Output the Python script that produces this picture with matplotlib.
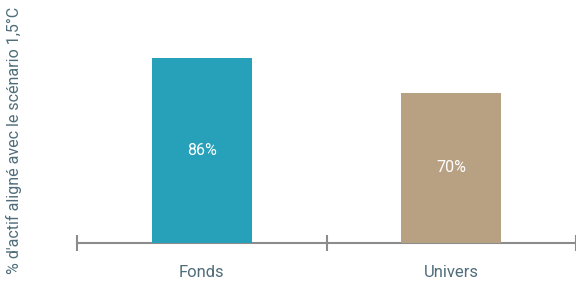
import matplotlib.pyplot as plt
from matplotlib import font_manager

# === DATA ===
categories = ["Fonds", "Univers"]
values = [86, 70]
value_labels = ["86%", "70%"]
bar_colors = ["#26a1b9", "#b8a083"]

# === STYLE ===
TEXT_COLOR = "#4f6d7a"
AXIS_COLOR = "#8c8c8c"

available = {f.name for f in font_manager.fontManager.ttflist}
family = "Liberation Sans Narrow" if "Liberation Sans Narrow" in available else "Roboto"
plt.rcParams["font.family"] = [family, "DejaVu Sans"]

fig = plt.figure(figsize=(5.76, 2.81), dpi=100)
ax = fig.add_axes([77 / 576, 38 / 281, 499 / 576, 215 / 281])

x = list(range(len(categories)))
ax.bar(x, values, width=0.4, color=bar_colors, zorder=2)

for xi, v, lab in zip(x, values, value_labels):
    ax.text(xi, v / 2, lab, ha="center", va="center", color="white", fontsize=11.5, zorder=3)

ax.set_xlim(-0.5, 1.5)
ax.set_ylim(0, 100)

for side in ["top", "right", "left"]:
    ax.spines[side].set_visible(False)
ax.spines["bottom"].set_color(AXIS_COLOR)
ax.spines["bottom"].set_linewidth(1.5)
ax.spines["bottom"].set_zorder(1)

# boundary ticks between categories, labels centred under the bars
ax.set_xticks([-0.5, 0.5, 1.5])
ax.set_xticklabels([])
ax.tick_params(axis="x", which="major", direction="inout", length=12, width=1.5, color=AXIS_COLOR)
ax.set_xticks(x, minor=True)
ax.set_xticklabels(categories, minor=True)
ax.tick_params(axis="x", which="minor", length=0, pad=16, labelsize=12, labelcolor=TEXT_COLOR)
ax.set_yticks([])

fig.text(0.024, 0.5, "% d'actif aligné avec le scénario 1,5°C", rotation=90,
         ha="center", va="center", fontsize=11.5, color=TEXT_COLOR)

fig.savefig("out.png", dpi=100)
